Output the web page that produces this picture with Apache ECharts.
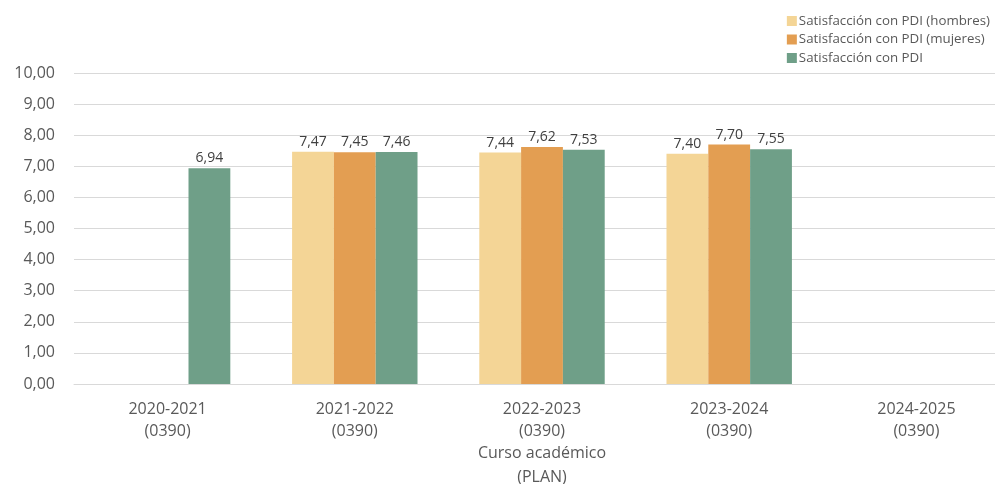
<!DOCTYPE html>
<html><head><meta charset="utf-8">
<script src="https://cdn.jsdelivr.net/npm/echarts@6/dist/echarts.min.js"></script>
<style>html,body{margin:0;padding:0;background:#fff}#c{width:995px;height:484px}</style>
</head><body><div id="c"></div>
<script>
const categories = ['2020-2021\n(0390)','2021-2022\n(0390)','2022-2023\n(0390)','2023-2024\n(0390)','2024-2025\n(0390)'];
const hombres = [null, 7.47, 7.44, 7.40, null];
const mujeres = [null, 7.45, 7.62, 7.70, null];
const total = [6.94, 7.46, 7.53, 7.55, null];
const seriesNames = ['Satisfacción con PDI (hombres)','Satisfacción con PDI (mujeres)','Satisfacción con PDI'];
const colors = ['#F4D596','#E39E52','#6F9F88'];
const yTicks = {min:0, max:10, interval:1};

const font = '"Open Sans", sans-serif';
const chart = echarts.init(document.getElementById('c'));
const label = {show:true, position:'top', distance:3, color:'#404040', fontSize:14, fontFamily:font,
  formatter: p => p.value == null ? '' : p.value.toFixed(2).replace('.', ',')};
chart.setOption({
  animation:false,
  textStyle:{fontFamily:font},
  legend:{orient:'vertical', right:0, top:9, itemWidth:10, itemHeight:10, itemGap:4.5,
    textStyle:{color:'#595959', fontSize:13.3, lineHeight:14, fontFamily:font, padding:[0,0,0,-3]},
    data:seriesNames, icon:'rect'},
  grid:{left:74, right:-15, top:73, bottom:100, containLabel:false, outerBoundsMode:'none'},
  xAxis:{type:'category', data:categories,
    axisLine:{lineStyle:{color:'#D9D9D9'}}, axisTick:{show:false},
    axisLabel:{color:'#595959', fontSize:16, lineHeight:22, margin:14, fontFamily:font},
    name:'Curso académico\n(PLAN)', nameLocation:'middle', nameGap:57, nameMoveOverlap:false,
    nameTextStyle:{color:'#595959', fontSize:16, lineHeight:24, fontFamily:font}},
  yAxis:{type:'value', min:yTicks.min, max:yTicks.max, interval:yTicks.interval,
    axisLine:{show:false}, axisTick:{show:false},
    splitLine:{lineStyle:{color:'#D9D9D9'}},
    axisLabel:{color:'#595959', fontSize:16, margin:19, fontFamily:font,
      formatter: v => v.toFixed(2).replace('.', ',')}},
  series:[
    {name:seriesNames[0], type:'bar', data:hombres, itemStyle:{color:colors[0]}, barGap:'0%', barCategoryGap:'33%', label},
    {name:seriesNames[1], type:'bar', data:mujeres, itemStyle:{color:colors[1]}, barGap:'0%', barCategoryGap:'33%', label},
    {name:seriesNames[2], type:'bar', data:total, itemStyle:{color:colors[2]}, barGap:'0%', barCategoryGap:'33%', label}
  ]
});
</script></body></html>
